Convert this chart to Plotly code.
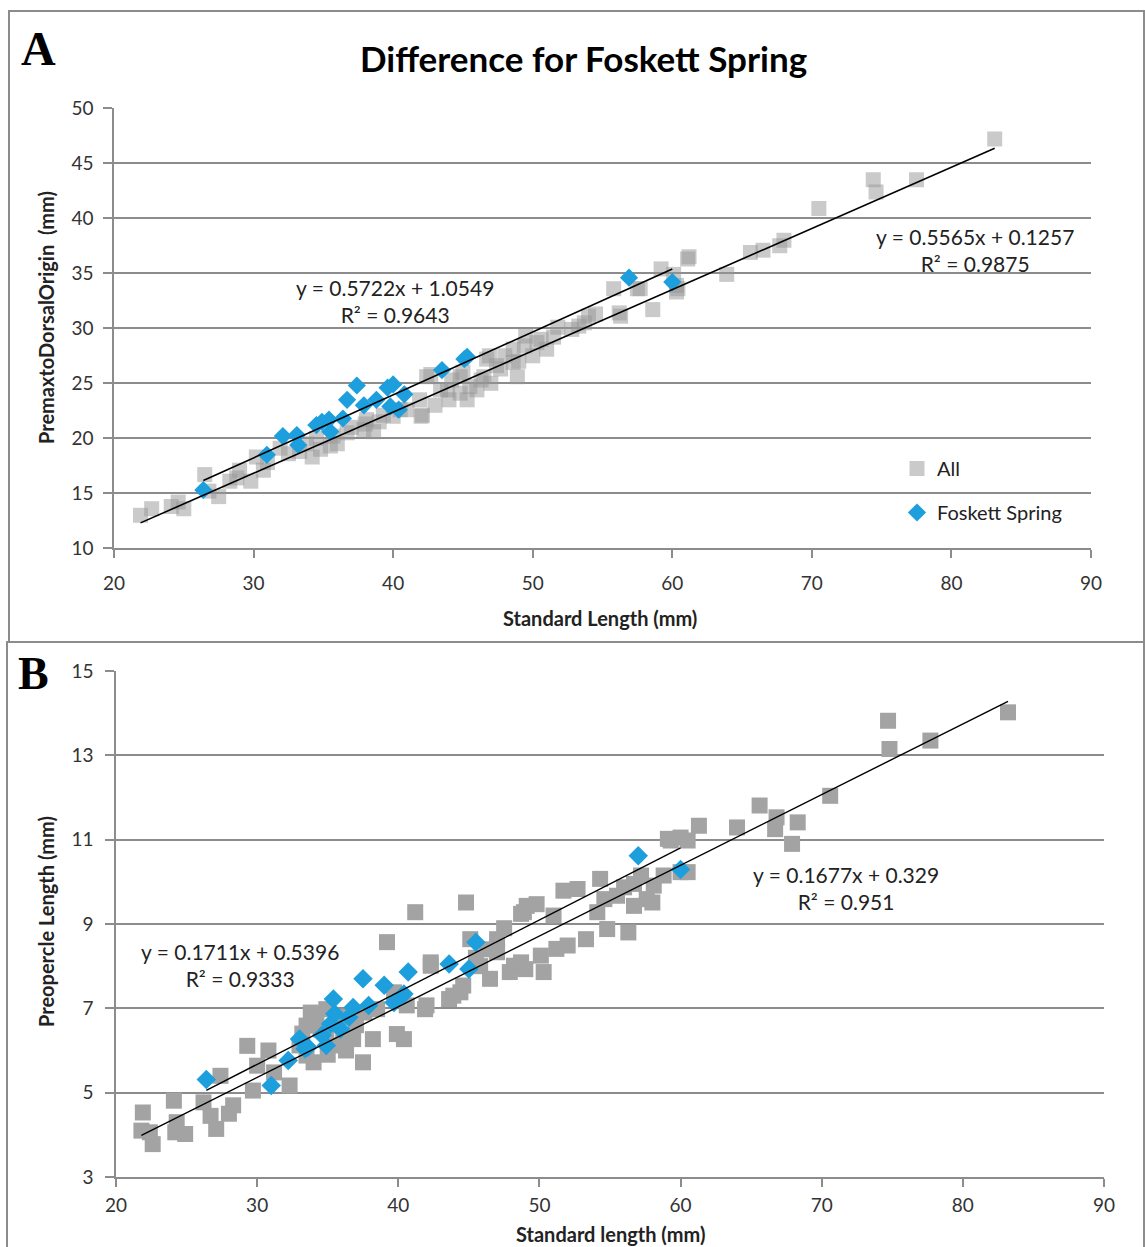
import numpy as np
import plotly.graph_objects as go

# ---------------- DATA ----------------
# Panel A: Premaxilla to dorsal origin vs standard length
A_all_x = [21.9, 22.7, 24.1, 24.6, 25.0, 26.5, 27.5, 28.3, 29.0, 29.8, 30.2, 30.7, 31.9, 33.3, 34.2,
           34.8, 35.5, 35.7, 36.7, 37.9, 38.1, 38.6, 39.3, 40.0, 41.0, 42.1, 41.9, 42.4, 43.4, 44.2,
           44.8, 45.3, 46.0, 46.5, 46.9, 47.4, 40.5, 42.0, 42.7, 43.9, 44.8, 45.5, 46.3, 46.7, 47.7,
           48.9, 48.6, 48.6, 49.4, 50.3, 51.0, 51.5, 52.8, 53.7, 54.5, 56.3, 55.8, 57.5, 58.6, 60.4,
           60.1, 59.2, 61.2, 50.6, 51.8, 53.3, 54.0, 56.2, 57.7, 60.3, 60.3, 61.1, 63.9, 65.6, 66.5,
           67.7, 68.0, 70.5, 74.4, 74.6, 77.5, 83.1, 47.0, 48.0, 49.0, 49.5, 50.0, 44.0, 43.0, 45.0,
           36.0, 37.0, 38.0, 39.0, 33.8, 34.5, 32.5, 31.0, 28.8, 26.8]
A_all_y = [13.0, 13.6, 13.8, 14.2, 13.6, 16.7, 14.7, 16.1, 17.1, 16.1, 18.3, 17.1, 19.1, 18.8, 18.3,
           19.0, 19.3, 20.2, 20.5, 20.8, 21.7, 20.6, 22.1, 22.0, 22.6, 22.1, 23.5, 25.6, 24.4, 25.3,
           24.1, 23.5, 24.4, 25.6, 27.5, 26.6, 22.6, 22.0, 25.8, 24.4, 25.6, 24.7, 25.3, 27.2, 26.3,
           25.6, 26.9, 28.1, 28.4, 28.7, 28.1, 29.2, 29.9, 30.5, 31.3, 31.1, 33.6, 33.6, 31.7, 33.6,
           34.9, 35.4, 36.5, 29.0, 30.1, 30.2, 31.1, 31.4, 33.6, 33.9, 33.3, 36.3, 34.9, 36.9, 37.1,
           37.5, 38.0, 40.9, 43.5, 42.4, 43.5, 47.2, 25.0, 27.5, 27.0, 29.3, 27.5, 23.5, 23.0, 26.0,
           19.5, 21.0, 21.3, 21.5, 19.5, 20.0, 18.6, 17.8, 16.4, 15.2]
A_fos_x = [26.4, 30.95, 32.1, 33.1, 33.2, 34.5, 34.9, 35.4, 35.5, 36.4, 36.7, 37.4, 37.9, 38.8,
           39.6, 40.0, 39.8, 40.4, 40.8, 43.5, 45.1, 45.3, 56.9, 60.0]
A_fos_y = [15.3, 18.5, 20.2, 20.3, 19.4, 21.2, 21.5, 21.7, 20.6, 21.8, 23.5, 24.8, 23.0, 23.5,
           24.6, 24.9, 22.9, 22.6, 24.0, 26.2, 27.2, 27.4, 34.6, 34.2]

# Panel B: Preopercle length vs standard length
B_all_x = [21.9, 21.8, 22.6, 22.4, 24.1, 24.2, 24.9, 24.3, 26.2, 26.7, 27.1, 27.4, 28.3, 28.0, 29.3,
           29.7, 30.0, 30.8, 31.2, 32.3, 33.0, 33.5, 33.5, 34.0, 34.2, 34.9, 34.9, 35.4, 36.1, 36.8,
           37.5, 38.2, 38.5, 39.2, 39.7, 39.9, 40.4, 40.6, 41.2, 41.9, 42.0, 42.3, 42.3, 43.6, 43.9,
           44.4, 44.6, 44.8, 45.1, 47.0, 47.0, 47.9, 48.2, 48.7, 48.7, 48.9, 49.0, 49.1, 49.8, 50.1,
           50.3, 51.0, 51.2, 51.7, 52.0, 52.7, 53.3, 54.1, 54.3, 54.6, 54.8, 55.5, 56.0, 56.3, 56.7,
           56.7, 57.2, 57.6, 58.0, 58.1, 58.8, 59.1, 59.3, 60.0, 60.0, 60.5, 60.5, 61.3, 64.0, 65.6,
           66.7, 66.8, 67.9, 68.3, 70.6, 74.7, 74.8, 77.7, 83.2, 33.2, 33.8, 34.5, 35.0, 35.8, 36.3,
           37.0, 37.6, 45.8, 46.3, 46.5, 47.5, 45.5]
B_all_y = [4.53, 4.10, 3.78, 4.06, 4.81, 4.06, 4.02, 4.30, 4.77, 4.45, 4.14, 5.40, 4.70, 4.50, 6.11,
           5.05, 5.64, 6.00, 5.48, 5.17, 6.12, 6.59, 5.88, 5.72, 6.75, 6.98, 6.43, 6.12, 6.36, 6.27,
           5.72, 6.27, 6.98, 8.57, 7.38, 6.39, 6.27, 7.07, 9.28, 6.98, 7.07, 8.01, 8.09, 7.22, 7.30,
           7.38, 7.54, 9.51, 8.64, 8.33, 8.64, 7.86, 8.01, 8.09, 9.24, 9.28, 7.93, 9.43, 9.47, 8.25,
           7.86, 9.20, 8.41, 9.79, 8.49, 9.83, 8.64, 9.28, 10.07, 9.59, 8.88, 9.67, 9.87, 8.80, 9.43,
           9.95, 10.15, 9.59, 9.51, 9.91, 10.15, 11.02, 10.98, 11.05, 10.23, 10.23, 10.98, 11.33, 11.29, 11.81,
           11.25, 11.53, 10.90, 11.41, 12.04, 13.82, 13.15, 13.35, 14.02, 6.40, 6.90, 6.50, 5.90, 6.80, 6.00,
           6.60, 6.90, 8.00, 8.40, 7.70, 8.90, 8.20]
B_fos_x = [26.4, 31.0, 32.2, 33.0, 33.4, 33.6, 34.6, 34.9, 35.2, 35.4, 35.5, 35.9, 36.5, 36.8,
           37.5, 37.9, 39.0, 39.7, 40.4, 40.7, 43.6, 45.0, 45.5, 57.0, 60.0]
B_fos_y = [5.31, 5.17, 5.76, 6.27, 6.04, 6.08, 6.36, 6.12, 6.63, 7.22, 6.87, 6.51, 6.79, 7.02,
           7.70, 7.07, 7.55, 7.14, 7.34, 7.86, 8.05, 7.93, 8.57, 10.62, 10.29]

# trendline coefficients (slope, intercept) and R² as printed on chart
A_all_fit = (0.5565, 0.1257, 0.9875)
A_fos_fit = (0.5722, 1.0549, 0.9643)
B_all_fit = (0.1677, 0.329, 0.951)
B_fos_fit = (0.1711, 0.5396, 0.9333)

x_ticks = [20, 30, 40, 50, 60, 70, 80, 90]
A_y_ticks = [10, 15, 20, 25, 30, 35, 40, 45, 50]
B_y_ticks = [3, 5, 7, 9, 11, 13, 15]

# ---------------- STYLE ----------------
W, H = 1145, 1247
FONT = "Lato"
GRID = "#8c8c8c"
GRAY_A = "rgba(150,150,150,0.5)"
GRAY_B = "#a3a3a3"
BLUE = "#1d9fdd"

def fmt(v):
    return ("%g" % v)

def eq_text(fit):
    m, b, r2 = fit
    return "y = %sx + %s<br>R² = %s" % (fmt(m), fmt(b), fmt(r2))

def trend(x, fit):
    m, b, _ = fit
    xs = np.array([min(x), max(x)])
    return xs, m * xs + b

fig = go.Figure()

# Panel A
fig.add_trace(go.Scatter(x=A_all_x, y=A_all_y, mode="markers", name="All",
                         legendgroup="all", xaxis="x", yaxis="y",
                         marker=dict(symbol="square", size=15, color=GRAY_A, line=dict(width=0))))
fig.add_trace(go.Scatter(x=A_fos_x, y=A_fos_y, mode="markers", name="Foskett Spring",
                         legendgroup="fos", xaxis="x", yaxis="y",
                         marker=dict(symbol="diamond", size=14, color=BLUE, line=dict(width=0))))
for xd, fit in [(A_all_x, A_all_fit), (A_fos_x, A_fos_fit)]:
    tx, ty = trend(xd, fit)
    fig.add_trace(go.Scatter(x=tx, y=ty, mode="lines", showlegend=False, xaxis="x", yaxis="y",
                             line=dict(color="black", width=1.6), hoverinfo="skip"))

# Panel B
fig.add_trace(go.Scatter(x=B_all_x, y=B_all_y, mode="markers", name="All", showlegend=False,
                         xaxis="x2", yaxis="y2",
                         marker=dict(symbol="square", size=16, color=GRAY_B, line=dict(width=0))))
fig.add_trace(go.Scatter(x=B_fos_x, y=B_fos_y, mode="markers", name="Foskett Spring", showlegend=False,
                         xaxis="x2", yaxis="y2",
                         marker=dict(symbol="diamond", size=15, color=BLUE, line=dict(width=0))))
for xd, fit in [(B_all_x, B_all_fit), (B_fos_x, B_fos_fit)]:
    tx, ty = trend(xd, fit)
    fig.add_trace(go.Scatter(x=tx, y=ty, mode="lines", showlegend=False, xaxis="x2", yaxis="y2",
                             line=dict(color="black", width=1.4), hoverinfo="skip"))

tickfont = dict(family=FONT, size=19, color="#333333")
common_x = dict(range=[20, 90], tickvals=x_ticks, showgrid=False, zeroline=False,
                showline=True, linecolor=GRID, linewidth=1.5, ticks="outside", ticklen=8,
                tickcolor=GRID, tickwidth=1.5, tickfont=tickfont)
common_y = dict(showgrid=True, gridcolor=GRID, gridwidth=1.5, zeroline=False,
                showline=True, linecolor=GRID, linewidth=1.5, ticks="outside", ticklen=9,
                tickcolor=GRID, tickwidth=1.5, tickfont=tickfont)

fig.update_layout(
    width=W, height=H, autosize=False,
    margin=dict(l=0, r=0, t=0, b=0, pad=0, autoexpand=False),
    paper_bgcolor="white", plot_bgcolor="white",
    showlegend=True,
    xaxis=dict(domain=[114 / W, 1091 / W], anchor="y", ticklabelstandoff=9, **common_x),
    yaxis=dict(domain=[1 - 548.3 / H, 1 - 108.3 / H], anchor="x", range=[10, 50],
               tickvals=A_y_ticks, ticklabelstandoff=6, **common_y),
    xaxis2=dict(domain=[116 / W, 1104 / W], anchor="y2", ticklabelstandoff=2, **common_x),
    yaxis2=dict(domain=[1 - 1177 / H, 1 - 671 / H], anchor="x2", range=[3, 15],
                tickvals=B_y_ticks, ticklabelstandoff=8, **common_y),
    legend=dict(x=897 / W, y=1 - 449 / H, xanchor="left", yanchor="top",
                traceorder="grouped", tracegroupgap=15, itemwidth=30,
                font=dict(family=FONT, size=20, color="#222222"), bgcolor="rgba(0,0,0,0)"),
)

border = dict(color="#8c8c8c", width=2)
fig.add_shape(type="rect", xref="paper", yref="paper", x0=9 / W, x1=1144 / W,
              y0=1 - 642 / H, y1=1 - 11 / H, line=border, layer="below")
fig.add_shape(type="rect", xref="paper", yref="paper", x0=7 / W, x1=1144 / W,
              y0=-0.01, y1=1 - 642 / H, line=border, layer="below")

def pann(text, px, py, font, angle=0):
    return dict(text=text, x=px / W, y=1 - py / H, xref="paper", yref="paper",
                xanchor="center", yanchor="middle", showarrow=False, font=font, textangle=angle)

ann = []
# panel letters
ann.append(pann("<b>A</b>", 38, 48, dict(family="Liberation Serif", size=48, color="black")))
ann.append(pann("<b>B</b>", 33, 673, dict(family="Liberation Serif", size=46, color="black")))
# title
ann.append(pann("<b>Difference for Foskett Spring</b>", 583, 58, dict(family=FONT, size=35, color="black")))
# axis titles
title_font = dict(family=FONT, size=20, color="#222222")
ann.append(pann("<b>Standard Length (mm)</b>", 600, 618, title_font))
ann.append(pann("<b>PremaxtoDorsalOrigin  (mm)</b>", 46, 318, title_font, -90))
ann.append(pann("<b>Standard length (mm)</b>", 610, 1234, title_font))
ann.append(pann("<b>Preopercle Length (mm)</b>", 46, 922, title_font, -90))
# equations
eq_font = dict(family=FONT, size=21, color="#222222")
for txt, x, y, xr, yr in [(eq_text(A_fos_fit), 40.1, 32.5, "x", "y"),
                          (eq_text(A_all_fit), 81.7, 37.1, "x", "y"),
                          (eq_text(B_fos_fit), 28.8, 8.03, "x2", "y2"),
                          (eq_text(B_all_fit), 71.7, 9.85, "x2", "y2")]:
    ann.append(dict(text=txt, x=x, y=y, xref=xr, yref=yr, xanchor="center", yanchor="middle",
                    showarrow=False, font=eq_font, align="center"))
fig.update_layout(annotations=ann)

fig.write_html("out.html")
